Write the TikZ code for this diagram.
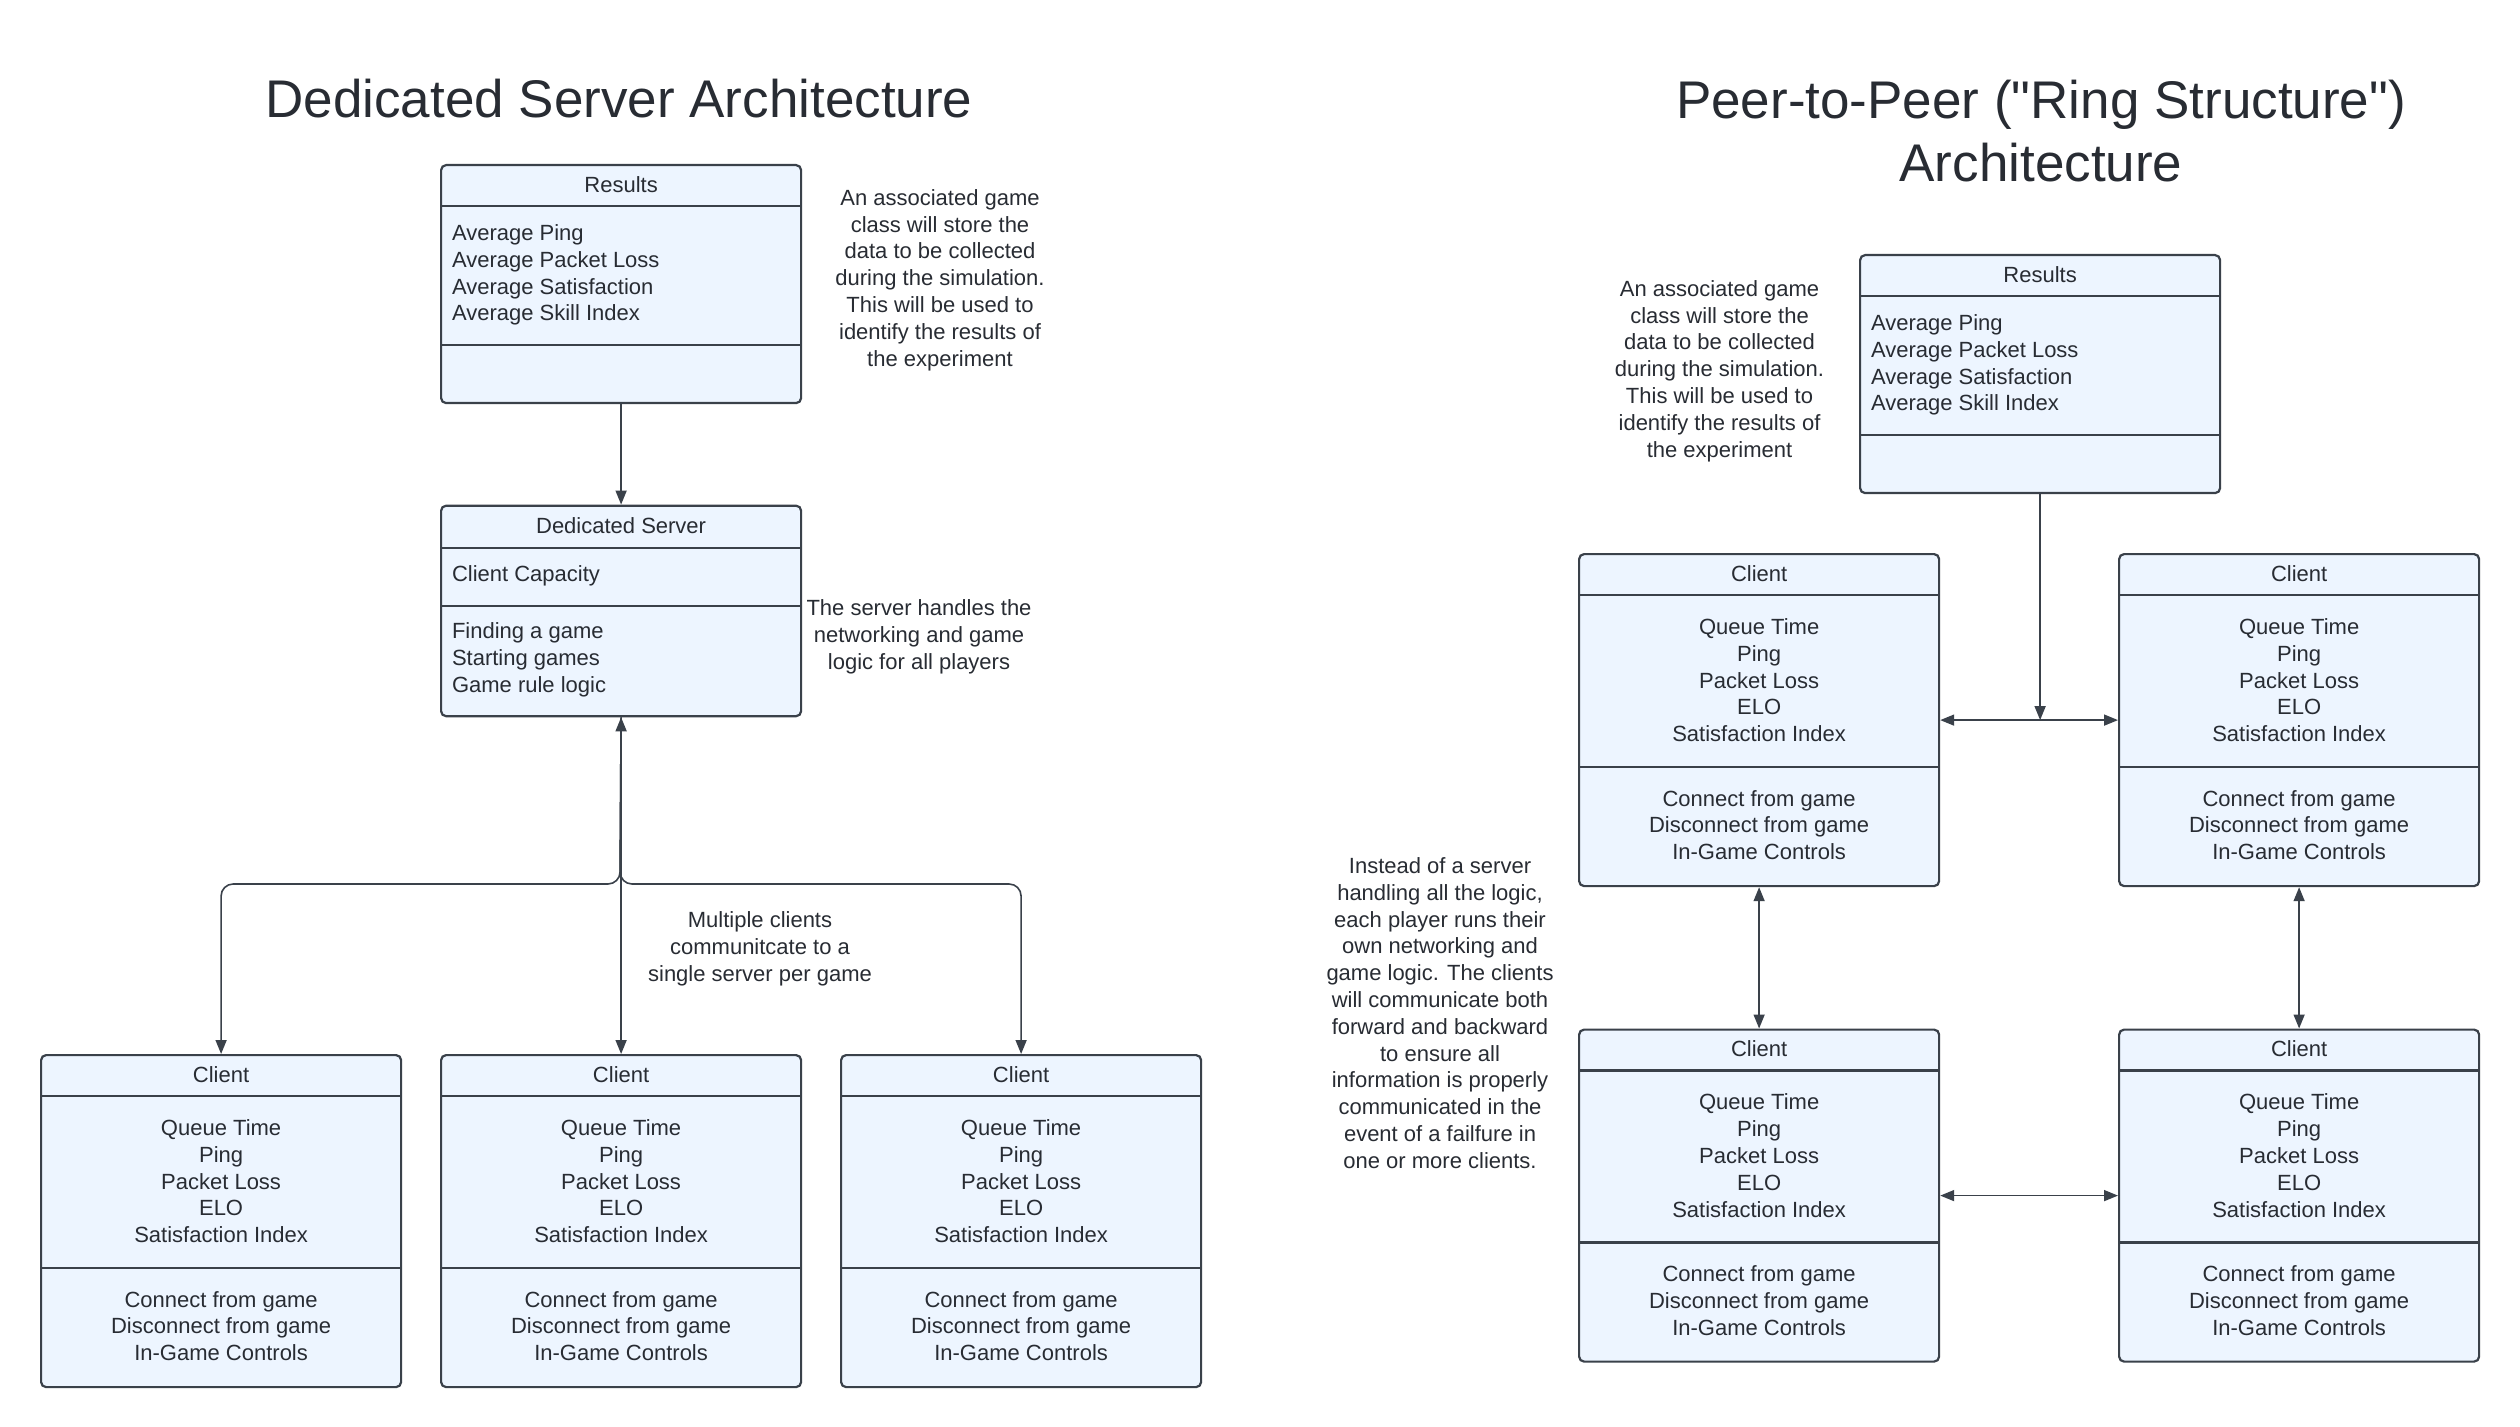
\documentclass[tikz,border=0pt]{standalone}
\usepackage{fontspec}
\setmainfont{Liberation Sans}
\newfontfamily\qfont{Liberation Sans}
\usetikzlibrary{arrows.meta}
\definecolor{boxfill}{HTML}{EDF5FF}
\definecolor{boxline}{HTML}{3A414A}
\definecolor{txt}{HTML}{282C33}
\tikzset{
 umlbox/.style={draw=boxline, fill=boxfill, line width=1.1pt, rounded corners=2.5pt, inner sep=0pt, anchor=north west},
 divider/.style={draw=boxline, line width=1.1pt},
 txtc/.style={text=txt, font=\fontsize{11}{13.4}\selectfont, align=center, inner sep=0pt},
 txtl/.style={text=txt, font=\fontsize{11}{13.4}\selectfont, align=left, inner sep=0pt, anchor=west},
 titletxt/.style={text=txt, font=\fontsize{26.5}{31.5}\selectfont, align=center, inner sep=0pt},
 conn/.style={draw=boxline, line width=0.8pt, arrows={-Triangle[length=7pt,width=5.5pt]}},
 conntwo/.style={draw=boxline, line width=0.8pt, arrows={Triangle[length=7pt,width=5.5pt]-Triangle[length=7pt,width=5.5pt]}},
}
\newcommand\clientbox[3]{%
 \node[umlbox, minimum width=180pt, minimum height=166pt] (#1) at (#2,#3) {};
 \draw[divider] ([yshift=-21pt]#1.north west) -- ([yshift=-21pt]#1.north east);
 \draw[divider] ([yshift=-107pt]#1.north west) -- ([yshift=-107pt]#1.north east);
 \node[txtc] (#1-h) at ([yshift=-10.2pt]#1.north) {Client};
 \node[txtc] (#1-a) at ([yshift=-63.6pt]#1.north) {Queue Time\\Ping\\Packet Loss\\ELO\\Satisfaction Index};
 \node[txtc] (#1-m) at ([yshift=-136pt]#1.north) {Connect from game\\Disconnect from game\\In-Game Controls};
}
\newcommand\resultsbox[3]{%
 \node[umlbox, minimum width=180pt, minimum height=119pt] (#1) at (#2,#3) {};
 \draw[divider] ([yshift=-21pt]#1.north west) -- ([yshift=-21pt]#1.north east);
 \draw[divider] ([yshift=-90.5pt]#1.north west) -- ([yshift=-90.5pt]#1.north east);
 \node[txtc] (#1-h) at ([yshift=-10.2pt]#1.north) {Results};
 \node[txtl] (#1-a) at ([xshift=5.8pt,yshift=-55.5pt]#1.north west) {Average Ping\\Average Packet Loss\\Average Satisfaction\\Average Skill Index};
}
\begin{document}
\begin{tikzpicture}[x=0.5pt,y=-0.5pt]
\fill[white] (0,0) rectangle (2520,1427);
\useasboundingbox (0,0) rectangle (2520,1427);

% ---------- Left: Dedicated server ----------
\node[titletxt] (ttlL) at (619,99) {Dedicated Server Architecture};

\resultsbox{resL}{440}{164}

\node[umlbox, minimum width=180pt, minimum height=105.25pt] (srv) at (440,504.6) {};
\draw[divider] ([yshift=-21.5pt]srv.north west) -- ([yshift=-21.5pt]srv.north east);
\draw[divider] ([yshift=-50.6pt]srv.north west) -- ([yshift=-50.6pt]srv.north east);
\node[txtc] (srv-h) at ([yshift=-10.3pt]srv.north) {Dedicated Server};
\node[txtl] (srv-a) at ([xshift=5.8pt,yshift=-35.5pt]srv.north west) {Client Capacity};
\node[txtl] (srv-m) at ([xshift=5.8pt,yshift=-77.5pt]srv.north west) {Finding a game\\Starting games\\Game rule logic};

\clientbox{cl1}{40}{1054}
\clientbox{cl2}{440}{1054}
\clientbox{cl3}{840}{1054}

\node[txtc] (noteL1) at (940,280) {An associated game\\class will store the\\data to be collected\\during the simulation.\\This will be used to\\identify the results of\\the experiment};
\node[txtc] (noteL2) at (919,637) {The server handles the\\networking and game\\logic for all players};
\node[txtc] (noteL3) at (760,949) {Multiple clients\\communitcate to a\\single server per game};

\draw[conn] (resL.south) -- (srv.north);
\coordinate (br) at (620,884);
\draw[conntwo] (srv.south) -- (cl2.north);
\draw[conn, rounded corners=6pt] (srv.south) -- (br) -- (br -| cl1.north) -- (cl1.north);
\draw[conn, rounded corners=6pt] (srv.south) -- (br) -- (br -| cl3.north) -- (cl3.north);

% ---------- Right: Peer-to-peer ----------
\node[titletxt] (ttlR) at (2041,131) {Peer-to-Peer ({\qfont"}Ring Structure{\qfont"})\\Architecture};

\resultsbox{resR}{1859}{254}

\clientbox{ctl}{1578}{553}
\clientbox{ctr}{2118}{553}
\clientbox{cbl}{1578}{1028.5}
\clientbox{cbr}{2118}{1028.5}

\node[txtc] (noteR1) at (1719.5,371) {An associated game\\class will store the\\data to be collected\\during the simulation.\\This will be used to\\identify the results of\\the experiment};
\node[txtc] (noteR2) at (1440,1013) {Instead of a server\\handling all the logic,\\each player runs their\\own networking and\\game logic. The clients\\will communicate both\\forward and backward\\to ensure all\\information is properly\\communicated in the\\event of a failfure in\\one or more clients.};

\draw[conntwo] (ctl.east) -- (ctr.west);
\draw[conn] (resR.south) -- (resR.south |- ctl.east);
\draw[conntwo] (ctl.south) -- (cbl.north);
\draw[conntwo] (ctr.south) -- (cbr.north);
\draw[conntwo] (cbl.east) -- (cbr.west);
\end{tikzpicture}
\end{document}
